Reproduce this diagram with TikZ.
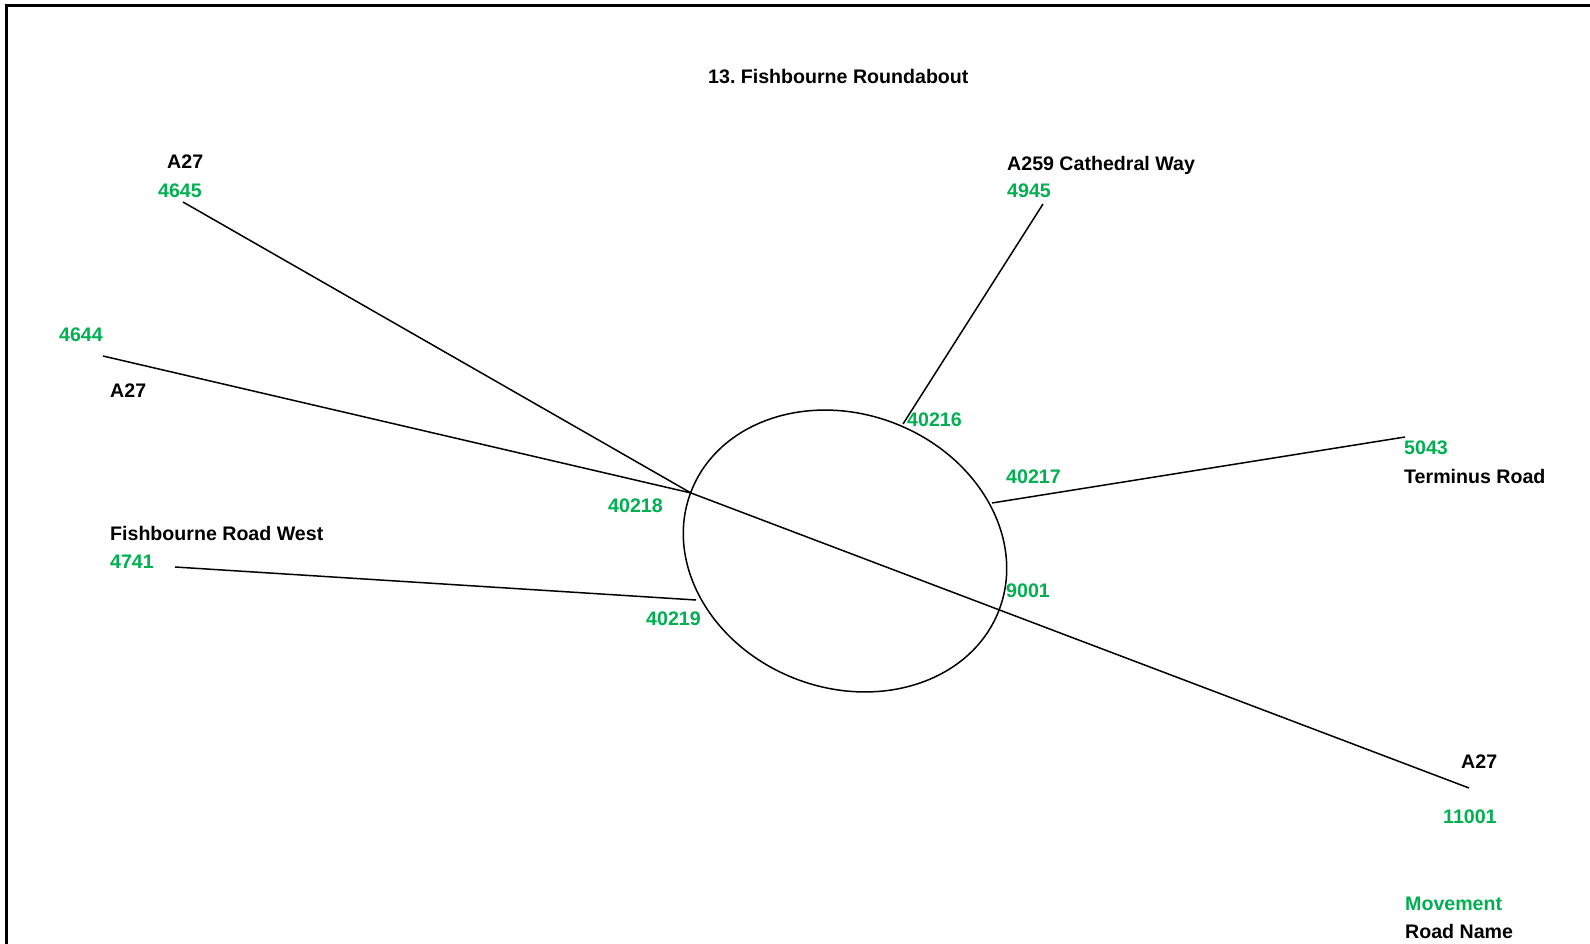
\documentclass[tikz,border=0pt]{standalone}
\usepackage{fontspec}
\setmainfont{Liberation Sans}
\usetikzlibrary{shapes.geometric}
\definecolor{movegreen}{RGB}{0,176,80}
\frenchspacing
\begin{document}
\begin{tikzpicture}[x=1pt,y=-1pt,
  lbl/.style={anchor=base west,inner sep=0pt,font=\fontsize{19.6}{23}\selectfont\bfseries},
  road/.style={lbl,text=black},
  mov/.style={lbl,text=movegreen},
  link/.style={draw=black,line width=1.5pt}]
\useasboundingbox (0,0) rectangle (1590,944);
% frame
\draw[line width=3.6pt,line join=miter] (6.5,950) -- (6.5,5.7) -- (1600,5.7);
% title
\node[road] (title) at (708,84) {13. Fishbourne Roundabout};
% roundabout
\node[draw,line width=1.5pt,ellipse,minimum width=330pt,minimum height=274pt,inner sep=0pt,rotate=-21] (rb) at (845,551) {};
% end points
\coordinate (e4645) at (183,202);
\coordinate (e4644) at (103,356);
\coordinate (j218) at (691,493);
\coordinate (e11001) at (1469,788);
\coordinate (e4741) at (175,567);
\coordinate (j219) at (696,600);
\coordinate (e4945) at (1043,204);
\coordinate (j216) at (903,424);
\coordinate (e5043) at (1405,437);
\coordinate (j217) at (992,503);
% links
\draw[link] (e4645) -- (j218);
\draw[link] (e4644) -- (j218);
\draw[link] (j218) -- (e11001);
\draw[link] (e4741) -- (j219);
\draw[link] (e4945) -- (j216);
\draw[link] (e5043) -- (j217);
% labels
\node[road] (rA27a) at (167,169) {A27};
\node[mov] (m4645) at (158,198) {4645};
\node[mov] (m4644) at (59,341) {4644};
\node[road] (rA27b) at (110,397) {A27};
\node[road] (rFRW) at (110,540) {Fishbourne Road West};
\node[mov] (m4741) at (110,568) {4741};
\node[mov] (m40218) at (608,512) {40218};
\node[mov] (m40219) at (646,625) {40219};
\node[mov] (m40216) at (907,426) {40216};
\node[road] (rA259) at (1007,171) {A259 Cathedral Way};
\node[mov] (m4945) at (1007,198) {4945};
\node[mov] (m40217) at (1006,483) {40217};
\node[mov] (m9001) at (1006,597) {9001};
\node[mov] (m5043) at (1404,454) {5043};
\node[road] (rTR) at (1404,483) {Terminus Road};
\node[road] (rA27c) at (1461,768) {A27};
\node[mov] (m11001) at (1443,823) {11001};
\node[mov] (kMove) at (1405,910) {Movement};
\node[road] (kRoad) at (1405,938) {Road Name};
\end{tikzpicture}
\end{document}
